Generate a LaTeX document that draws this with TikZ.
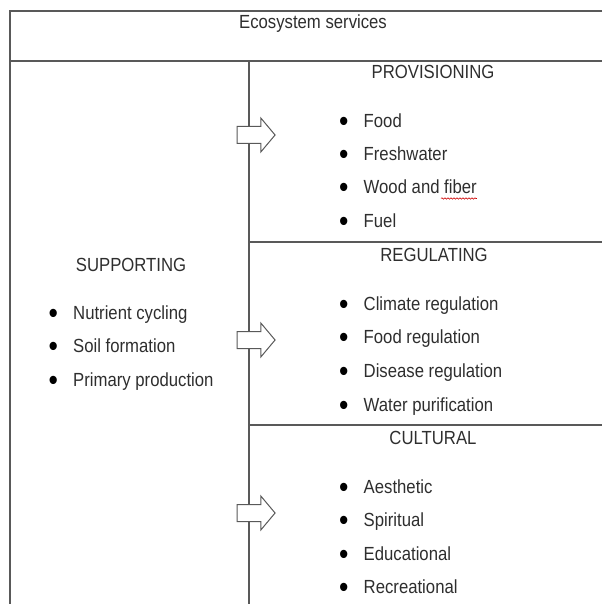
\documentclass[tikz,border=0pt]{standalone}
\usepackage{fontspec}
\setmainfont{Liberation Sans}[FakeStretch=0.88]
\usetikzlibrary{shapes.arrows,decorations.pathmorphing}
\definecolor{ink}{HTML}{2E2E2E}
\definecolor{rule}{HTML}{595959}
\tikzset{lbl/.style={font=\fontsize{19}{21}\selectfont,text=ink,inner sep=0pt,anchor=base},
  itemtxt/.style={lbl,anchor=base west},
  frame/.style={draw=rule,line width=1.3pt},
  blockarr/.style={single arrow,draw=rule,fill=white,line width=1pt,minimum height=38pt,inner xsep=0pt,inner ysep=8pt,single arrow head extend=8.5pt,single arrow tip angle=100}}
\newcommand{\bul}{\makebox[24.5pt][l]{\raisebox{-4.2pt}{\scalebox{1.6}{\color{black}\textbullet}}}}

\begin{document}
\begin{tikzpicture}[x=1pt,y=-1pt]
\useasboundingbox (0,0) rectangle (602,604);
% table frame
\draw[frame] (602,11) -- (10,11) -- (10,604);
\draw[frame] (10,61) -- (602,61);
\draw[frame] (249,61) -- (249,604);
\draw[frame] (249,242) -- (602,242);
\draw[frame] (249,425) -- (602,425);
% headings
\node[lbl] (eco) at (313,29) {Ecosystem services};
\node[lbl] (sup) at (131,271) {SUPPORTING};
\node[lbl] (prov) at (433,79) {PROVISIONING};
\node[lbl] (reg) at (434,261) {REGULATING};
\node[lbl] (cult) at (433,444) {CULTURAL};
% supporting
\node[itemtxt] (nutr) at (48.5,319.5) {\bul Nutrient cycling};
\node[itemtxt] (soil) at (48.5,352.5) {\bul Soil formation};
\node[itemtxt] (prim) at (48.5,386.5) {\bul Primary production};
% provisioning
\node[itemtxt] (food) at (339,127.5) {\bul Food};
\node[itemtxt] (fresh) at (339,160.5) {\bul Freshwater};
\node[itemtxt] (wood) at (339,193.5) {\bul Wood and fiber};
\node[itemtxt] (fuel) at (339,227.5) {\bul Fuel};
\draw[red!80!black,line width=0.6pt,decorate,decoration={snake,amplitude=0.7pt,segment length=3pt}]
  ([xshift=-36pt,yshift=-5pt]wood.base east) -- ([yshift=-5pt]wood.base east);
% regulating
\node[itemtxt] (clim) at (339,310.5) {\bul Climate regulation};
\node[itemtxt] (foodreg) at (339,343.5) {\bul Food regulation};
\node[itemtxt] (dis) at (339,377.5) {\bul Disease regulation};
\node[itemtxt] (water) at (339,411.5) {\bul Water purification};
% cultural
\node[itemtxt] (aest) at (339,493.5) {\bul Aesthetic};
\node[itemtxt] (spir) at (339,526.5) {\bul Spiritual};
\node[itemtxt] (educ) at (339,560.5) {\bul Educational};
\node[itemtxt] (recr) at (339,593.5) {\bul Recreational};
% arrows
\node[blockarr] (arr1) at (252.5,135) {};
\node[blockarr] (arr2) at (252.5,340) {};
\node[blockarr] (arr3) at (252.5,513) {};
\end{tikzpicture}
\end{document}
